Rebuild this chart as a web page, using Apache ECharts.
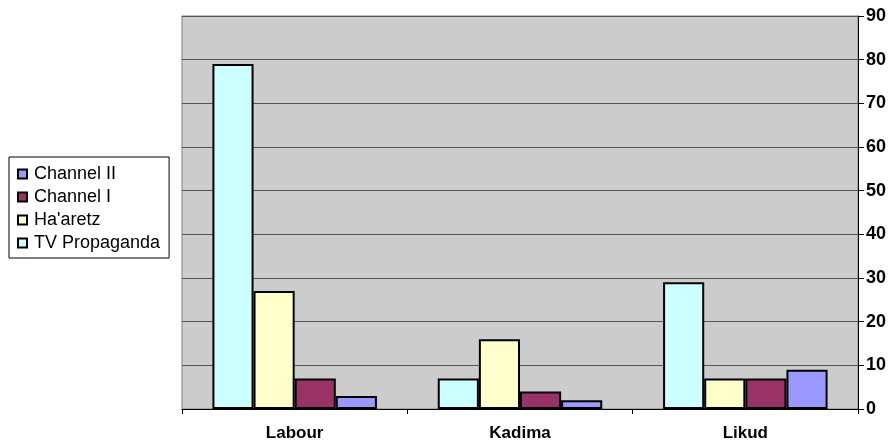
<!DOCTYPE html>
<html>
<head>
<meta charset="utf-8">
<script src="https://cdn.jsdelivr.net/npm/echarts@6/dist/echarts.min.js"></script>
<style>
  html, body { margin: 0; padding: 0; background: #fff; }
  #chart { width: 895px; height: 445px; }
</style>
</head>
<body>
<div id="chart"></div>
<script>
// categories and series values
const parties = ["Labour", "Kadima", "Likud"];
const tvPropaganda = [79, 7, 29];
const haaretz = [27, 16, 7];
const channelI = [7, 4, 7];
const channelII = [3, 2, 9];
const legendOrder = ["Channel II", "Channel I", "Ha'aretz", "TV Propaganda"];

const font = "Liberation Sans, Arial, Helvetica, sans-serif";

function bar(name, data, color) {
  return {
    name: name,
    type: "bar",
    data: data,
    barGap: "0%",
    barCategoryGap: "27%",
    itemStyle: {
      color: color,
      borderColor: "#000",
      borderWidth: 2,
    },
  };
}

const chart = echarts.init(document.getElementById("chart"));
chart.setOption({
  animation: false,
  backgroundColor: "#fff",
  textStyle: { fontFamily: font },
  grid: {
    left: 182,
    right: 37,
    top: 16,
    bottom: 36,
    show: true,
    backgroundColor: "#cccccc",
    borderColor: "#808080",
    borderWidth: 1,
  },
  legend: {
    orient: "vertical",
    left: 9,
    top: 157,
    data: legendOrder,
    icon: "rect",
    itemWidth: 9,
    itemHeight: 9,
    itemGap: 5,
    borderColor: "#000",
    borderWidth: 1,
    padding: [8, 9, 6, 8],
    textStyle: { fontFamily: font, fontSize: 18, lineHeight: 18, color: "#000", padding: [0, 0, 0, 2] },
  },
  xAxis: {
    type: "category",
    data: parties,
    axisLine: { show: true, lineStyle: { color: "#000", width: 1 } },
    axisTick: { show: true, length: 5, lineStyle: { color: "#000" } },
    axisLabel: {
      color: "#000",
      fontSize: 17,
      fontWeight: "bold",
      fontFamily: font,
      margin: 16,
    },
    splitLine: { show: false },
  },
  yAxis: {
    type: "value",
    position: "right",
    min: 0,
    max: 90,
    interval: 10,
    axisLine: { show: true, lineStyle: { color: "#000", width: 1 } },
    axisTick: { show: true, length: 6, lineStyle: { color: "#000" } },
    axisLabel: {
      color: "#000",
      fontSize: 18,
      fontWeight: "bold",
      fontFamily: font,
      margin: 8,
    },
    splitLine: { show: true, lineStyle: { color: "#555", width: 1 } },
  },
  series: [
    bar("TV Propaganda", tvPropaganda, "#ccffff"),
    bar("Ha'aretz", haaretz, "#ffffcc"),
    bar("Channel I", channelI, "#993366"),
    bar("Channel II", channelII, "#9999ff"),
  ],
});
</script>
</body>
</html>
